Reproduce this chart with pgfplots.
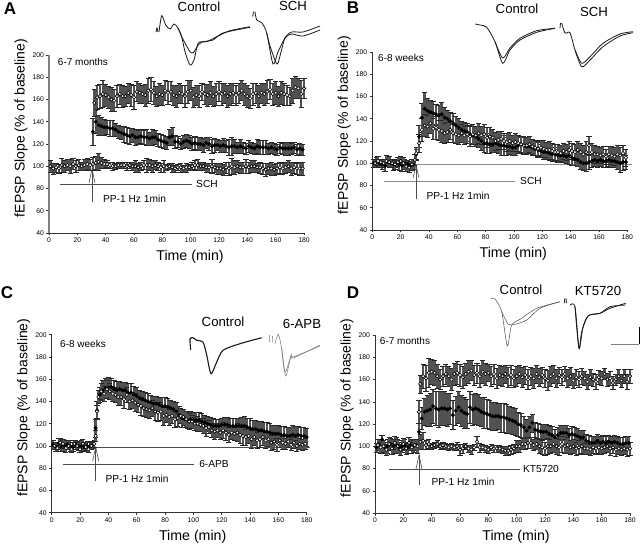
\documentclass[border=0pt]{standalone}
\usepackage{pgfplots}
\pgfplotsset{compat=1.18}
\usepackage{fontspec}
\setmainfont{Liberation Sans}
\pgfplotsset{
  table/row sep=\\, table/header=false, table/x index=0, table/y index=1,
  panel/.style={
    scale only axis, width=255pt, height=178pt,
    xmin=0, xmax=180, ymin=40, ymax=200,
    xtick={0,20,...,180}, ytick={40,60,...,200},
    axis x line=bottom, axis y line=left, axis line style={-, line width=0.7pt, black!80},
    tick align=outside, major tick length=2.5pt, tick style={black!80, line width=0.5pt},
    tick label style={font=\fontsize{6.8}{8}\selectfont},
    /pgf/number format/assume math mode=true,
    xticklabel style={yshift=1pt}, yticklabel style={xshift=1pt},
    xlabel={Time (min)}, ylabel={fEPSP Slope (\% of baseline)},
    every axis x label/.style={at={(axis description cs:0.553,0)}, anchor=center, yshift=-24pt, font=\fontsize{14.2}{16}\selectfont},
    every axis y label/.style={at={(axis description cs:0,0.59)}, anchor=center, rotate=90, yshift=28pt, font=\fontsize{14}{16}\selectfont},
    clip=false,
  },
  opens/.style={only marks, mark=*, mark size=1.75pt,
    mark options={fill=white, draw=black, line width=0.6pt},
    error bars/y dir=both, error bars/y explicit,
    error bars/error bar style={black!68, line width=2.5pt},
    error bars/error mark options={rotate=90, mark size=2.6pt, black!85, line width=0.5pt}},
  fills/.style={only marks, mark=*, mark size=1.8pt,
    mark options={fill=black, draw=black},
    error bars/y dir=both, error bars/y explicit,
    error bars/error bar style={black!68, line width=2.5pt},
    error bars/error mark options={rotate=90, mark size=2.6pt, black!85, line width=0.5pt}},
  tr/.style={black!90, line width=0.8pt, smooth, tension=0.45, no marks},
  lin/.style={black!70, line width=0.6pt, no marks},
}
\newcommand{\txt}[4]{\node[font=\fontsize{#1}{#1}\selectfont, inner sep=0pt, anchor=center] at (axis cs:#2,#3) {#4};}
\begin{document}
\begin{tikzpicture}
\path[use as bounding box] (0,0) rectangle (640pt,544pt);

% pixel overlay: insets, stimulus lines, text
\begin{axis}[at={(0,0)}, anchor=south west, scale only axis, width=640pt, height=544pt,
  xmin=0, xmax=640, ymin=0, ymax=544, y dir=reverse, hide axis, clip=false]
% panel A
\addplot[lin] coordinates {(60,184.5) (192,184.5)};
\addplot[lin] coordinates {(92,169) (92,202)};
\addplot[lin] coordinates {(89,183) (92,169) (95,183)};
\addplot[tr] coordinates {(156,32) (157,28) (158,32)};
\addplot[tr] coordinates {(159,32) (161.7,15.7) (165.7,25) (170,29) (174,24) (178,28) (181.7,36.7) (185,51.7) (190,65) (194,60) (198.3,43) (206.7,41.7) (216.7,36.7) (230,30.7) (250,26.7)};
\addplot[tr] coordinates {(178,28) (181.7,36.7) (185,43) (190,51.7) (193.3,52.7) (198.3,45) (203,41.7) (213,40) (223,33) (250,27.3)};
\addplot[tr] coordinates {(252.7,16.7) (253.5,11.7)};
\addplot[tr] coordinates {(255,11.7) (256.7,20) (261.7,22.7) (266.7,33) (273,64) (278,52) (285,38) (291.7,34) (303,36) (320,30)};
\addplot[tr] coordinates {(266.7,33) (270,46) (277,64) (281,52) (285,38) (291.7,32) (303,32) (320,26)};
% panel B
\addplot[black!45, line width=1pt, no marks] coordinates {(384,181.7) (515,181.7)};
\addplot[black!45, line width=1pt, no marks] coordinates {(415,164) (632,164)};
\addplot[lin] coordinates {(416,165) (416,199)};
\addplot[lin] coordinates {(413,178) (416,165) (419,178)};
\addplot[tr] coordinates {(475,24) (480,25) (486.7,27.3) (495,41.7) (502.7,63.3) (510,50) (520,40) (536.7,32.3) (555,28.3)};
\addplot[tr] coordinates {(495,41.7) (502.7,58) (510,48) (520,38.3) (536.7,30.7) (555,28.3)};
\addplot[tr] coordinates {(560,28) (560.5,23)};
\addplot[tr] coordinates {(561.7,23) (565,33) (570,32.7) (575,50) (581.7,66.7) (590,60) (603,46.7) (620,36) (633,32.7)};
\addplot[tr] coordinates {(575,50) (581.7,63.3) (590,56.7) (603,43.3) (620,34) (633,31.7)};
% panel C
\addplot[lin] coordinates {(63,464) (194,464)};
\addplot[lin] coordinates {(95,447) (310,447)};
\addplot[lin] coordinates {(95.7,447) (95.7,481)};
\addplot[lin] coordinates {(92.7,461) (95.7,447) (98.7,461)};
\addplot[tr, line width=1.1pt] coordinates {(190.7,350) (190,339) (193,337.7) (196.7,340.3) (203,342) (206.7,355) (211,373.7) (216.7,362) (223,350.3) (240,343.7) (261.7,337.7)};
\addplot[tr, black!50, line width=0.6pt] coordinates {(269,335) (269,342)};
\addplot[tr, black!50, line width=0.6pt] coordinates {(272,336) (272,342)};
\addplot[tr, black!50, line width=0.6pt] coordinates {(275,343.7) (278.3,334.3) (281.7,348.7) (285.7,376) (291,355.3) (293.3,357) (320,346)};
\addplot[tr, black!50, line width=0.6pt] coordinates {(281.7,348.7) (285,372) (291,356.3) (293.3,358) (320,345)};
% panel D
\addplot[lin] coordinates {(389,469) (520,469)};
\addplot[lin] coordinates {(419,455) (419,485)};
\addplot[lin] coordinates {(416,469) (419,455) (422,469)};
\addplot[black!50, line width=0.8pt, no marks] coordinates {(611,344) (639,344)};
\addplot[black, line width=0.8pt, no marks] coordinates {(639,327) (639,344)};
\addplot[tr, black!70, line width=0.5pt] coordinates {(490.7,298.3) (495,299) (501.7,311.7) (507.3,346) (511.7,325) (521.7,318.3) (536.7,308.3) (560,301.7)};
\addplot[tr, black!70, line width=0.5pt] coordinates {(501.7,311.7) (508.3,324.3) (515,324.3) (526.7,320) (540,308.3) (560,301.7)};
\addplot[tr] coordinates {(564.3,303) (564.8,298.3)};
\addplot[tr] coordinates {(566,298.3) (566.5,303)};
\addplot[tr] coordinates {(570,305) (575,306.7) (579,348.3) (581.7,331.7) (588.3,315.7) (600,313.3) (610,308.3) (625.7,303.3)};
\addplot[tr] coordinates {(575,306.7) (579,348.3) (583,327) (588.3,315.7) (600,313.3) (610,306.7) (625.7,305)};
% text
\txt{17}{10}{9}{\bfseries A}
\txt{17}{353}{8}{\bfseries B}
\txt{17}{7}{293}{\bfseries C}
\txt{17}{353}{293}{\bfseries D}
\txt{13.2}{199}{7}{Control}
\txt{13.2}{293}{6}{SCH}
\txt{13.2}{517}{9}{Control}
\txt{13.2}{594}{12}{SCH}
\txt{13.2}{223}{322}{Control}
\txt{13.2}{302}{324}{6-APB}
\txt{13.2}{521}{290}{Control}
\txt{13.2}{598}{291}{KT5720}
\txt{10}{83}{62}{6-7 months}
\txt{10}{401}{58}{6-8 weeks}
\txt{10}{83}{344}{6-8 weeks}
\txt{10}{405}{341}{6-7 months}
\txt{10.2}{134.5}{199}{PP-1 Hz 1min}
\txt{10.2}{458}{196}{PP-1 Hz 1min}
\txt{10.2}{137}{479}{PP-1 Hz 1min}
\txt{10.2}{463}{482}{PP-1 Hz 1min}
\txt{10.2}{207}{184}{SCH}
\txt{10.2}{531}{181}{SCH}
\txt{10.2}{214}{464}{6-APB}
\txt{10.2}{541}{468.5}{KT5720}
\end{axis}

% A
\begin{axis}[panel, at={(49pt,311pt)}, anchor=south west, y axis line style={black!50, line width=1.3pt}]
\addplot[opens] table[y error index=2] {1 100 5\\3 98 5\\5 99 4\\7 98 4\\9 101 6\\11 100 5\\13 101 5\\15 100 6\\17 102 5\\19 100 5\\21 101 5\\23 100 4\\25 101 5\\27 102 5\\29 101 5\\31 102 6\\33 103 6\\35 104 8\\37 103 5\\39 102 4\\41 102 3\\43 101 3\\45 100 4\\47 100 3\\49 101 3\\51 101 3\\53 101 3\\55 100 4\\57 101 3\\59 100 4\\61 100 5\\63 99 4\\65 100 4\\67 101 4\\69 101 6\\71 101 5\\73 100 5\\75 101 4\\77 100 4\\79 99 4\\81 100 5\\83 99 3\\85 100 3\\87 99 4\\89 98 3\\91 99 3\\93 99 4\\95 98 3\\97 99 4\\99 99 3\\101 100 4\\103 101 4\\105 101 5\\107 100 4\\109 100 4\\111 99 4\\113 99 4\\115 100 6\\117 99 4\\119 98 5\\121 98 5\\123 97 5\\125 99 5\\127 98 6\\129 100 7\\131 99 6\\133 100 5\\135 99 5\\137 99 5\\139 100 6\\141 99 5\\143 100 5\\145 100 5\\147 99 4\\149 99 5\\151 98 5\\153 97 6\\155 98 5\\157 98 6\\159 97 5\\161 98 5\\163 99 5\\165 98 5\\167 99 5\\169 100 5\\171 98 6\\173 99 5\\175 98 5\\177 98 6\\179 98 6\\};
\addplot[fills] table[y error index=2] {31 131 12\\33 140 10\\35 137 9\\37 136 8\\39 135 7\\41 135 6\\43 134 7\\45 134 7\\47 133 6\\49 131 6\\51 130 6\\53 129 7\\55 128 7\\57 127 7\\59 128 6\\61 126 7\\63 126 6\\65 127 6\\67 126 6\\69 126 7\\71 125 6\\73 126 7\\75 126 6\\77 124 6\\79 123 6\\81 122 6\\83 121 6\\85 126 7\\87 127 8\\89 122 6\\91 122 5\\93 120 5\\95 122 6\\97 123 6\\99 122 6\\101 120 6\\103 121 6\\105 120 6\\107 120 6\\109 119 6\\111 121 5\\113 120 6\\115 118 6\\117 119 6\\119 119 5\\121 118 5\\123 119 6\\125 118 5\\127 117 7\\129 118 8\\131 118 6\\133 117 5\\135 118 6\\137 117 5\\139 116 5\\141 118 5\\143 117 5\\145 116 5\\147 118 6\\149 117 6\\151 117 6\\153 117 6\\155 116 5\\157 117 5\\159 116 5\\161 115 5\\163 117 5\\165 116 5\\167 116 6\\169 116 6\\171 116 5\\173 117 5\\175 115 5\\177 116 5\\179 115 5\\};
\addplot[opens] table[y error index=2] {32 157 12\\34 162 11\\36 163 11\\38 165 12\\40 164 10\\42 162 10\\44 160 11\\46 159 10\\48 163 10\\50 165 9\\52 163 10\\54 163 9\\56 166 9\\58 164 10\\60 162 11\\62 167 9\\64 166 9\\66 165 8\\68 164 10\\70 168 11\\72 169 11\\74 166 10\\76 163 9\\78 165 10\\80 164 9\\82 168 9\\84 166 10\\86 167 9\\88 164 9\\90 163 10\\92 166 9\\94 165 8\\96 163 10\\98 167 10\\100 168 9\\102 162 9\\104 164 9\\106 163 10\\108 167 8\\110 165 9\\112 164 10\\114 166 10\\116 163 9\\118 165 10\\120 167 9\\122 165 10\\124 166 9\\126 163 10\\128 165 10\\130 166 9\\132 164 9\\134 166 9\\136 168 9\\138 165 10\\140 163 10\\142 161 9\\144 165 10\\146 166 9\\148 163 10\\150 166 9\\152 165 10\\154 167 10\\156 169 9\\158 165 10\\160 166 10\\162 163 9\\164 166 10\\166 165 10\\168 164 9\\170 163 8\\172 168 11\\174 171 10\\176 170 9\\178 165 12\\180 170 9\\};
\end{axis}

% B
\begin{axis}[panel, at={(372.3pt,314pt)}, anchor=south west]
\addplot[fills] table[y error index=2] {1 100 4\\3 101 4\\5 100 4\\7 99 4\\9 98 5\\11 101 4\\13 100 4\\15 99 5\\17 100 4\\19 99 5\\21 98 5\\23 100 4\\25 99 4\\27 98 4\\29 99 4\\31 108 5\\33 124 10\\35 141 13\\37 149 15\\39 147 11\\41 146 11\\43 145 11\\45 144 9\\47 143 9\\49 144 11\\51 141 9\\53 140 8\\55 138 8\\57 136 9\\59 134 8\\61 132 8\\63 130 8\\65 129 8\\67 128 8\\69 126 8\\71 125 8\\73 124 9\\75 122 8\\77 120 8\\79 118 8\\81 118 9\\83 117 8\\85 117 7\\87 118 8\\89 117 8\\91 116 9\\93 116 9\\95 115 8\\97 115 7\\99 114 7\\101 114 7\\103 116 7\\105 117 7\\107 116 7\\109 115 7\\111 115 6\\113 114 7\\115 113 6\\117 112 7\\119 111 6\\121 110 6\\123 110 6\\125 109 6\\127 108 6\\129 108 6\\131 107 6\\133 107 6\\135 107 6\\137 106 6\\139 107 8\\141 105 7\\143 104 6\\145 103 6\\147 101 6\\149 100 6\\151 100 7\\153 101 6\\155 102 6\\157 103 6\\159 102 6\\161 103 6\\163 102 6\\165 102 6\\167 103 6\\169 102 6\\171 102 6\\173 101 6\\175 100 8\\177 101 7\\179 101 6\\};
\addplot[opens] table[y error index=2] {2 100 4\\4 102 4\\6 101 3\\8 100 4\\10 102 5\\12 101 5\\14 100 4\\16 99 4\\18 101 4\\20 102 4\\22 100 5\\24 97 4\\26 96 4\\28 99 5\\30 103 5\\31 109 5\\33 118 8\\35 130 10\\37 134 10\\39 133 10\\41 136 9\\43 131 9\\45 132 10\\47 130 9\\49 129 10\\51 127 9\\53 128 9\\55 130 8\\57 127 8\\59 126 8\\61 125 8\\63 127 8\\65 125 8\\67 126 8\\69 124 9\\71 126 9\\73 125 8\\75 127 9\\77 125 8\\79 126 9\\81 123 9\\83 124 8\\85 123 8\\87 120 8\\89 121 8\\91 122 7\\93 120 7\\95 119 8\\97 120 8\\99 118 7\\101 119 8\\103 118 7\\105 117 7\\107 116 8\\109 116 7\\111 117 7\\113 115 7\\115 114 7\\117 113 7\\119 114 7\\121 113 8\\123 112 7\\125 112 8\\127 111 7\\129 110 7\\131 110 7\\133 109 7\\135 111 7\\137 110 7\\139 112 8\\141 111 7\\143 110 7\\145 112 8\\147 110 8\\149 108 8\\151 110 10\\153 116 8\\155 110 8\\157 108 8\\159 108 7\\161 107 7\\163 108 7\\165 106 7\\167 108 7\\169 107 8\\171 106 8\\173 108 8\\175 107 7\\177 109 7\\179 105 8\\};
\end{axis}

% C
\begin{axis}[panel, at={(51.7pt,31.3pt)}, anchor=south west]
\addplot[fills] table[y error index=2] {1 101 4\\3 99 4\\5 102 5\\7 100 5\\9 100 5\\11 101 4\\13 100 5\\15 99 4\\17 101 4\\19 100 4\\21 100 5\\23 99 4\\25 100 4\\27 100 3\\29 101 3\\31 116 8\\32 132 8\\34 146 7\\36 150 9\\38 152 9\\40 153 9\\42 153 8\\44 151 8\\46 150 8\\48 151 7\\50 150 7\\52 150 7\\54 148 8\\56 148 8\\58 146 8\\60 145 8\\62 143 7\\64 142 7\\66 141 7\\68 140 7\\70 139 7\\72 138 7\\74 138 7\\76 137 7\\78 136 8\\80 136 8\\82 135 8\\84 134 7\\86 133 7\\88 131 8\\90 128 8\\92 125 8\\94 124 7\\96 123 7\\98 124 7\\100 123 7\\102 123 7\\104 123 7\\106 122 7\\108 121 7\\110 120 7\\112 119 7\\114 118 7\\116 118 6\\118 118 6\\120 119 6\\122 119 7\\124 119 7\\126 118 7\\128 118 7\\130 118 7\\132 118 7\\134 118 8\\136 118 9\\138 117 8\\140 116 9\\142 115 8\\144 115 8\\146 114 8\\148 114 8\\150 113 8\\152 113 8\\154 112 8\\156 111 8\\158 111 8\\160 111 8\\162 110 8\\164 110 8\\166 109 8\\168 109 8\\170 110 9\\172 109 9\\174 110 8\\176 109 8\\178 109 8\\180 108 8\\};
\addplot[opens] table[y error index=2] {2 100 3\\4 98 3\\6 103 4\\8 102 4\\10 98 4\\12 100 3\\14 97 3\\16 102 3\\18 100 3\\20 97 3\\22 102 4\\24 99 3\\26 97 3\\28 100 3\\30 102 3\\31 109 5\\32 131 6\\33 144 6\\35 149 7\\37 147 7\\39 151 8\\41 149 7\\43 147 7\\45 146 7\\47 144 7\\49 144 7\\51 142 8\\53 146 7\\55 140 7\\57 141 7\\59 139 8\\61 137 7\\63 136 8\\65 134 7\\67 133 7\\69 132 7\\71 134 7\\73 131 8\\75 130 8\\77 131 8\\79 127 8\\81 128 7\\83 126 7\\85 127 7\\87 124 7\\89 125 7\\91 127 7\\93 126 7\\95 124 7\\97 122 7\\99 122 6\\101 120 6\\103 120 7\\105 119 6\\107 118 7\\109 116 7\\111 117 6\\113 114 6\\115 113 7\\117 114 6\\119 112 6\\121 114 7\\123 112 7\\125 110 7\\127 112 6\\129 111 6\\131 112 8\\133 110 8\\135 109 8\\137 108 7\\139 109 7\\141 106 8\\143 108 7\\145 105 7\\147 106 7\\149 108 7\\151 105 7\\153 106 6\\155 103 7\\157 104 7\\159 101 6\\161 105 6\\163 103 6\\165 102 5\\167 104 5\\169 101 5\\171 103 5\\173 100 5\\175 102 5\\177 101 5\\179 102 5\\};
\end{axis}

% D
\begin{axis}[panel, at={(375pt,31pt)}, anchor=south west]
\addplot[fills] table[y error index=2] {1 99 4\\3 101 5\\5 106 4\\7 99 5\\9 100 6\\11 102 5\\13 100 6\\15 101 7\\17 99 5\\19 100 5\\21 101 5\\23 99 5\\25 101 5\\27 100 5\\29 101 4\\31 113 8\\33 125 10\\35 131 12\\37 132 14\\39 133 15\\41 136 15\\43 134 15\\45 133 16\\47 134 15\\49 134 15\\51 133 15\\53 134 14\\55 128 13\\57 132 13\\59 135 14\\61 132 14\\63 130 14\\65 129 13\\67 135 14\\69 133 14\\71 134 14\\73 133 14\\75 131 13\\77 130 14\\79 129 13\\81 128 13\\83 127 13\\85 127 13\\87 127 12\\89 126 13\\91 126 13\\93 125 13\\95 124 12\\97 123 12\\99 122 12\\101 120 11\\103 119 11\\105 117 10\\107 114 10\\109 117 10\\111 121 8\\113 115 7\\115 114 7\\117 113 7\\119 113 7\\121 113 7\\123 111 8\\125 110 8\\127 108 7\\129 110 7\\131 112 7\\133 112 7\\135 112 7\\137 110 6\\139 111 7\\141 110 7\\143 109 7\\145 108 6\\147 108 6\\149 105 6\\151 104 6\\153 103 6\\155 103 6\\157 105 6\\159 103 6\\161 104 6\\163 103 6\\165 104 6\\167 103 6\\169 104 6\\171 103 6\\173 102 6\\175 102 6\\177 103 6\\179 103 6\\};
\addplot[opens] table[y error index=2] {2 101 5\\4 99 5\\6 100 5\\8 97 5\\10 102 6\\12 98 5\\14 103 6\\16 100 6\\18 97 5\\20 102 5\\22 98 5\\24 103 5\\26 99 5\\28 101 5\\30 100 6\\32 104 7\\34 105 8\\36 101 4\\38 102 4\\40 100 3\\42 101 3\\44 102 3\\46 100 3\\48 101 3\\50 100 3\\52 99 3\\54 100 3\\56 99 3\\58 100 4\\60 97 5\\62 98 4\\64 100 3\\66 98 3\\68 97 4\\70 99 3\\72 104 5\\74 99 4\\76 99 3\\78 98 3\\80 97 3\\82 99 3\\84 98 3\\86 98 3\\88 98 3\\90 97 3\\92 96 4\\94 96 4\\96 97 4\\98 98 4\\100 100 5\\102 100 5\\104 102 5\\106 102 5\\108 103 5\\110 103 5\\112 101 5\\114 102 5\\116 100 6\\118 99 6\\120 98 6\\122 100 7\\124 100 6\\126 102 7\\128 100 7\\130 99 7\\132 102 7\\134 100 6\\136 101 7\\138 99 6\\140 100 6\\142 98 6\\144 99 6\\146 100 6\\148 98 5\\150 98 5\\152 97 5\\154 99 5\\156 98 5\\158 99 5\\160 98 5\\162 99 5\\164 100 5\\166 98 6\\168 99 5\\170 97 6\\172 98 5\\174 97 5\\176 98 5\\178 97 6\\180 98 6\\};
\addplot[opens] table[y error index=2] {31 131 10\\32 156 8\\34 163 11\\36 161 12\\38 166 13\\40 167 11\\42 166 11\\44 163 11\\46 160 9\\48 163 9\\50 165 9\\52 163 9\\54 160 10\\56 165 10\\58 166 10\\60 164 10\\62 162 10\\64 165 10\\66 167 10\\68 168 9\\70 164 9\\72 166 9\\74 163 10\\76 167 10\\78 165 10\\80 166 8\\82 163 9\\84 165 9\\86 161 9\\88 164 9\\90 163 9\\92 165 8\\94 162 9\\96 164 9\\98 161 8\\100 163 9\\102 165 8\\104 162 9\\106 164 8\\108 160 9\\110 163 8\\112 161 9\\114 165 8\\116 162 8\\118 164 7\\120 161 8\\122 159 9\\124 163 9\\126 165 8\\128 161 8\\130 164 7\\132 162 7\\134 165 7\\136 161 8\\138 163 8\\140 159 7\\142 162 7\\144 160 7\\146 163 7\\148 161 6\\150 158 7\\152 162 7\\154 160 6\\156 158 7\\158 162 6\\160 161 6\\162 165 5\\164 160 6\\166 161 6\\168 157 6\\170 160 5\\172 163 6\\174 159 6\\176 163 6\\178 158 7\\180 163 6\\};
\end{axis}
\end{tikzpicture}
\end{document}
